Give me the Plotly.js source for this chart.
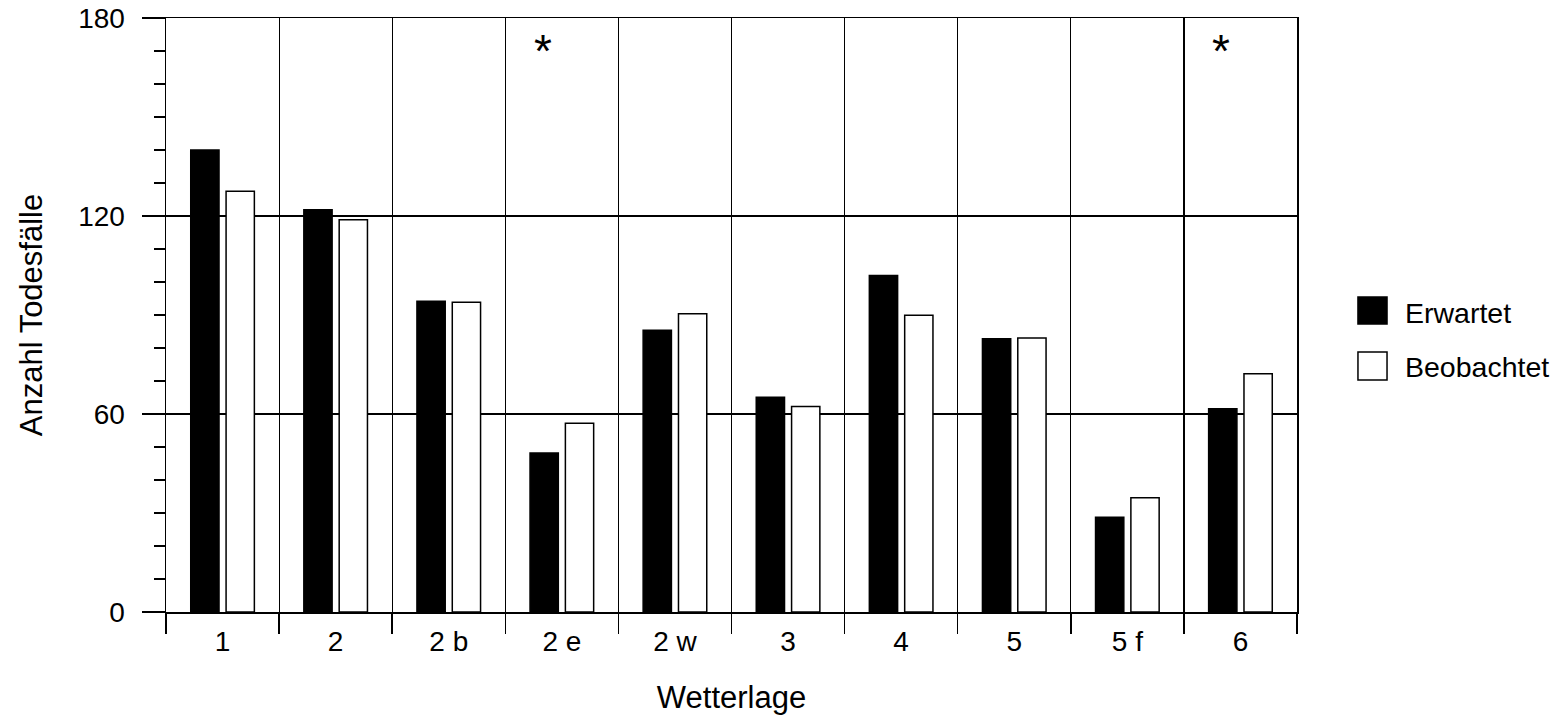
<!DOCTYPE html>
<html>
<head>
<meta charset="utf-8">
<script src="https://cdn.plot.ly/plotly-3.0.1.min.js"></script>
<style>
  html, body { margin: 0; padding: 0; background: #fff; }
  #chart { width: 1557px; height: 716px; }
</style>
</head>
<body>
<div id="chart"></div>
<script>
// ---- data ----
const categories = ["1", "2", "2 b", "2 e", "2 w", "3", "4", "5", "5 f", "6"];
const erwartet   = [140, 121.9, 94.2, 48.2, 85.4, 65.1, 102, 82.8, 28.7, 61.6];
const beobachtet = [127.5, 118.9, 93.9, 57.2, 90.4, 62.3, 89.9, 83, 34.6, 72.2];
const significant = ["2 e", "6"];
const seriesNames = ["Erwartet", "Beobachtet"];
const yTicks = [0, 60, 120, 180];

const FONT = "Liberation Sans, Arial, Helvetica, sans-serif";

const traces = [
  {
    type: "bar", name: seriesNames[0], x: categories, y: erwartet,
    marker: { color: "#000000", line: { color: "#000000", width: 1.5 } },
    showlegend: false, hoverinfo: "x+y+name"
  },
  {
    type: "bar", name: seriesNames[1], x: categories, y: beobachtet,
    marker: { color: "#ffffff", line: { color: "#000000", width: 1.5 } },
    showlegend: false, hoverinfo: "x+y+name"
  }
];

const annotations = significant.map(c => ({
  x: categories.indexOf(c), y: 172.5, xref: "x", yref: "y", xshift: -19,
  text: "*", showarrow: false,
  font: { family: FONT, size: 46, color: "#000" },
  xanchor: "center", yanchor: "middle", yshift: -8
}));

// custom legend (large square swatches)
annotations.push(
  { xref: "paper", yref: "paper", x: 1.0937, y: 0.504, text: seriesNames[0], showarrow: false,
    xanchor: "left", yanchor: "middle", font: { family: FONT, size: 28.5, color: "#000" } },
  { xref: "paper", yref: "paper", x: 1.0937, y: 0.412, text: seriesNames[1], showarrow: false,
    xanchor: "left", yanchor: "middle", font: { family: FONT, size: 28.5, color: "#000" } }
);

const shapes = [
  { type: "rect", xref: "paper", yref: "paper", x0: 1.0539, x1: 1.0796, y0: 0.4848, y1: 0.5303,
    fillcolor: "#000", line: { color: "#000", width: 1.5 } },
  { type: "rect", xref: "paper", yref: "paper", x0: 1.0539, x1: 1.0796, y0: 0.3906, y1: 0.4377,
    fillcolor: "#fff", line: { color: "#000", width: 1.5 } }
];

const layout = {
  width: 1557, height: 716,
  margin: { l: 166, r: 260, t: 18, b: 104 },
  paper_bgcolor: "#fff", plot_bgcolor: "#fff",
  font: { family: FONT, color: "#000" },
  barmode: "group", bargap: 0.375, bargroupgap: 0.2,
  showlegend: false,
  xaxis: {
    type: "category",
    tickson: "boundaries",
    ticks: "outside", ticklen: 20, tickwidth: 1.5, tickcolor: "#000",
    ticklabelstandoff: 4,
    showgrid: true, gridcolor: "#000", gridwidth: 1.2,
    showline: true, linecolor: "#000", linewidth: 1.5, mirror: true,
    tickfont: { family: FONT, size: 28, color: "#000" },
    title: { text: "Wetterlage", font: { family: FONT, size: 31, color: "#000" }, standoff: 30 },
    fixedrange: true
  },
  yaxis: {
    range: [0, 180], tickvals: yTicks, ticktext: yTicks.map(String),
    ticks: "outside", ticklen: 23, tickwidth: 1.5, tickcolor: "#000",
    ticklabelstandoff: 11,
    minor: { dtick: 10, tick0: 0, ticks: "outside", ticklen: 11, tickwidth: 1.5, tickcolor: "#000", showgrid: false },
    showgrid: true, gridcolor: "#000", gridwidth: 1.2,
    zeroline: false,
    showline: true, linecolor: "#000", linewidth: 1.5, mirror: true,
    tickfont: { family: FONT, size: 28, color: "#000" },
    title: { text: "Anzahl Todesfälle", font: { family: FONT, size: 31, color: "#000" }, standoff: 26 },
    fixedrange: true
  },
  annotations: annotations,
  shapes: shapes
};

Plotly.newPlot("chart", traces, layout, { displayModeBar: false, staticPlot: true });
</script>
</body>
</html>
